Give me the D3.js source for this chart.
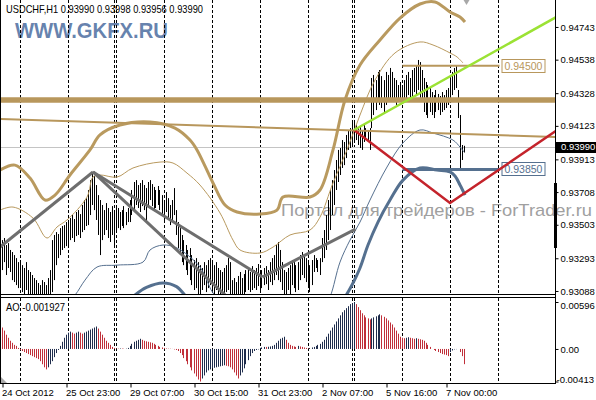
<!DOCTYPE html>
<html><head><meta charset="utf-8">
<script src="https://cdn.jsdelivr.net/npm/d3@7"></script>
<style>html,body{margin:0;padding:0;background:#fff;overflow:hidden}svg{display:block}</style>
</head><body><svg id="c" width="596" height="400"></svg>
<script>
// ---------- DATA ----------
const symbolTitle = "USDCHF,H1";
const lastOHLC = ["0.93990","0.93998","0.93956","0.93990"];
const aoTitle = "AO -0.001927";
const currentPrice = 0.93990;

const highs = [0.93407,0.9342,0.93376,0.93388,0.93345,0.93332,0.93313,0.93294,0.93269,0.93282,
0.9325,0.93232,0.93269,0.93219,0.93207,0.93188,0.93169,0.93156,0.93138,0.93125,
0.93156,0.93144,0.93125,0.93169,0.93219,0.93407,0.93439,0.93457,0.93445,0.93482,
0.93495,0.93501,0.9352,0.93533,0.93545,0.93564,0.93539,0.93583,0.93595,0.9357,
0.93627,0.93658,0.9367,0.93721,0.93783,0.93834,0.93809,0.93752,0.93689,0.93658,
0.93627,0.93595,0.93639,0.93608,0.93583,0.9362,0.93595,0.93627,0.93608,0.93583,
0.93595,0.9362,0.93583,0.93608,0.93658,0.93721,0.93771,0.93783,0.93752,0.93765,
0.93783,0.93752,0.93733,0.93771,0.93783,0.93758,0.9374,0.93721,0.93746,0.93721,
0.93689,0.93658,0.93708,0.9367,0.93627,0.93658,0.93733,0.93595,0.9352,0.93482,
0.93439,0.93407,0.93376,0.93345,0.93357,0.93313,0.93282,0.93294,0.93269,0.9325,
0.93232,0.93269,0.9325,0.93282,0.93294,0.93269,0.9325,0.93269,0.93232,0.93219,
0.93207,0.93232,0.9325,0.93294,0.93269,0.93156,0.93169,0.93144,0.93182,0.93207,
0.93169,0.93194,0.93219,0.93232,0.93207,0.93244,0.93219,0.93232,0.93257,0.93207,
0.93219,0.93232,0.93244,0.93219,0.93269,0.93294,0.93313,0.93376,0.93395,0.93345,
0.93269,0.93219,0.93207,0.93232,0.9325,0.93282,0.93269,0.9325,0.93269,0.93313,
0.93332,0.93313,0.93294,0.93269,0.9325,0.93282,0.93313,0.93294,0.93282,0.93294,
0.9342,0.9347,0.93564,0.93658,0.93721,0.93783,0.93846,0.93909,0.93972,0.93984,
0.94034,0.94022,0.94066,0.94097,0.94109,0.94147,0.9416,0.94128,0.94109,0.94122,
0.94097,0.94128,0.94109,0.94097,0.94109,0.94423,0.94442,0.9441,0.94461,0.94473,
0.94435,0.9441,0.94461,0.94442,0.94486,0.94461,0.94423,0.9441,0.94379,0.94398,
0.94379,0.9441,0.94442,0.94461,0.94423,0.94473,0.94486,0.94504,0.94536,0.94523,
0.94473,0.94423,0.94398,0.94379,0.9436,0.94335,0.94316,0.94348,0.94323,0.9431,
0.94335,0.94316,0.94348,0.9436,0.94442,0.94461,0.94486,0.94504,0.94348,0.94191,
0.94003,0.93998];

const lows = [0.93219,0.93269,0.93188,0.93232,0.93207,0.93156,0.93144,0.93125,0.93106,0.93119,
0.93081,0.93062,0.93094,0.93062,0.9304,0.9304,0.9304,0.9304,0.9304,0.9304,
0.9304,0.9304,0.9304,0.9304,0.9304,0.93081,0.93156,0.9325,0.93294,0.93313,
0.93345,0.93357,0.93369,0.93376,0.93407,0.9342,0.93395,0.93432,0.93439,0.9342,
0.93457,0.9347,0.93495,0.93501,0.93564,0.93627,0.93595,0.93533,0.93439,0.93313,
0.93407,0.93439,0.9347,0.9342,0.93395,0.93439,0.93376,0.93457,0.93482,0.9347,
0.93495,0.93482,0.93501,0.9352,0.9352,0.93564,0.93595,0.93627,0.93608,0.93583,
0.9362,0.93595,0.9352,0.93627,0.93658,0.9362,0.93595,0.93608,0.93627,0.93595,
0.93564,0.93533,0.93583,0.93545,0.93501,0.93533,0.93564,0.93439,0.93357,0.93332,
0.93269,0.9325,0.93219,0.93188,0.93156,0.93125,0.93094,0.93106,0.93062,0.9304,
0.93094,0.93125,0.93081,0.93106,0.93125,0.93094,0.93062,0.93094,0.9304,0.9304,
0.9304,0.9304,0.93081,0.93094,0.9304,0.9304,0.9304,0.9304,0.9304,0.93062,
0.9304,0.93062,0.93081,0.93094,0.93081,0.93094,0.93106,0.93094,0.93119,0.93094,
0.93106,0.93125,0.93131,0.93094,0.93144,0.93125,0.93156,0.93188,0.93156,0.93144,
0.93094,0.9304,0.9304,0.93094,0.9304,0.93125,0.93106,0.93081,0.93094,0.93156,
0.93188,0.93169,0.93144,0.93106,0.93081,0.93125,0.93207,0.93232,0.93207,0.93188,
0.93269,0.93294,0.93345,0.93407,0.9347,0.93564,0.93627,0.93721,0.93771,0.93815,
0.93859,0.93877,0.93921,0.93972,0.93984,0.94003,0.94034,0.94034,0.94003,0.93984,
0.93972,0.94022,0.94047,0.94022,0.93972,0.94109,0.94191,0.94222,0.94285,0.94254,
0.94235,0.9421,0.94254,0.94285,0.94298,0.94273,0.94285,0.94254,0.94298,0.94285,
0.94273,0.94298,0.94285,0.94316,0.94285,0.94298,0.94335,0.94316,0.94348,0.94298,
0.94285,0.9421,0.94191,0.94172,0.9421,0.94191,0.94172,0.9421,0.94222,0.94191,
0.9421,0.94222,0.94235,0.94254,0.94285,0.94316,0.94348,0.9436,0.94172,0.93859,
0.93909,0.93956];

const aoValues = [0.00272,0.00233,0.00181,0.00142,0.00104,0.00078,0.00052,0.00039,0.00013,
-0.00013,-0.00026,-0.00039,-0.00052,-0.00065,-0.00078,-0.00091,-0.00104,-0.00116,-0.00129,-0.00155,-0.00194,-0.00233,-0.00259,
-0.00233,-0.00194,-0.00155,-0.00104,-0.00052,-0.00013,
0.00039,0.00091,0.00142,0.00181,0.00207,0.0022,0.00207,0.00194,0.00207,0.0022,0.00207,0.00194,0.00207,0.0022,0.00233,0.00246,0.00259,0.00272,0.00285,
0.00259,0.0022,0.00181,0.00142,0.00104,0.00078,0.00052,0.00026,0.00013,
0.00006,0.00004,0.00006,0.00005,0.00003,0.00004,
0.00013,0.00039,0.00065,0.00091,0.00104,0.00116,0.00129,0.00116,0.00104,0.00097,0.00091,0.00084,0.00078,0.00065,0.00052,0.00039,0.00026,0.00019,0.00013,0.00006,0.00004,0.00003,0.00001,
-0.00006,-0.00013,-0.00026,-0.00052,-0.00078,-0.00116,-0.00155,-0.00194,-0.00233,-0.00272,-0.00311,-0.00349,-0.00388,-0.00413,
-0.00375,-0.00336,-0.00298,-0.00272,-0.00259,-0.00246,-0.00239,-0.00233,-0.00226,-0.0022,-0.00214,-0.00207,-0.00214,-0.0022,-0.00233,-0.00259,-0.00298,-0.00336,-0.00375,
-0.00336,-0.00298,-0.00246,-0.00194,-0.00142,-0.00091,-0.00052,-0.00026,-0.00013,-0.00006,
0.00013,0.00019,0.00026,0.00026,0.00028,0.00032,0.00039,0.00052,0.00078,0.00104,0.00129,0.00142,0.00155,0.00116,0.00078,0.00052,0.00039,0.00032,0.00026,0.00039,0.00032,0.00026,0.00019,0.00013,0.00006,
0.00013,0.00019,0.00026,0.00039,0.00052,0.00065,0.00091,0.00116,0.00155,0.00194,0.00233,0.00272,0.00311,0.00349,0.00388,0.00427,0.00466,0.00492,0.00518,0.00543,0.00569,0.00582,0.00596,
0.00569,0.00531,0.00492,0.00453,0.00427,0.00401,0.00388,0.00375,0.00388,0.00401,0.00414,0.00427,0.0044,0.00427,0.00408,0.00388,0.00362,0.00336,0.00311,0.00272,0.00233,0.00194,0.00155,
0.00142,0.00136,0.00142,0.00149,0.00142,0.00136,0.00129,0.00136,0.00129,0.00123,0.00116,0.00104,0.00078,0.00052,0.00026,0,-0.00013,-0.00026,-0.00039,-0.00052,-0.00065,-0.00071,-0.00078,-0.00091,
-0.00039,-0.00019,-0.00006,-0.00003,0,-0.00039,-0.00091,-0.00193];

const priceTicks = ["0.94743","0.94538","0.94328","0.94123","0.93913","0.93708","0.93503","0.93293","0.93088"];
const aoTicks = [0.00596, 0, -0.00413];
const aoTickLabels = ["0.00596","0.00","-0.00413"];
const dateLabels = ["24 Oct 2012","25 Oct 23:00","29 Oct 07:00","30 Oct 15:00","31 Oct 23:00","2 Nov 07:00","5 Nov 16:00","7 Nov 00:00"];
const dateLabelBars = [0,32,64,96,128,160,192,222];
const separatorBars = [9,33,56,57,81,105,129,153,175,176,200,224,248];

// indicator envelopes: [bar index, price]
const bandUpperOuter = [[-1.25,0.93846],[6.25,0.93877],[13.75,0.93796],[21.25,0.93658],[26.25,0.93689],[33.75,0.93815],[43.75,0.93972],[48.75,0.94066],[58.75,0.94128],[73.75,0.94147],[86.25,0.94109],[93.75,0.94034],[97.25,0.93972],[105.25,0.93765],[111.25,0.93627],[117.25,0.93583],[128.75,0.9357],[137.25,0.93595],[140.25,0.93677],[153.75,0.93677],[158.75,0.93721],[165.25,0.93972],[171.25,0.94285],[178.75,0.94504],[188.75,0.94661],[198.75,0.94799],[208.75,0.94887],[216.25,0.949],[223.75,0.94837],[228.75,0.94805],[231.25,0.94774]];
const bandUpperInner = [[-1.25,0.93595],[5.25,0.93614],[15.25,0.93545],[22.25,0.9342],[27.25,0.93489],[32.25,0.93533],[42.25,0.93677],[45.25,0.93802],[48.75,0.93815],[57.25,0.93802],[65.25,0.93859],[78.75,0.93896],[85.25,0.9389],[92.25,0.93827],[98.75,0.93752],[108.75,0.93577],[115.25,0.93407],[118.75,0.93345],[128.75,0.93326],[135.25,0.93363],[143.75,0.93439],[153.75,0.9347],[158.75,0.93551],[165.25,0.93765],[172.25,0.93972],[178.75,0.94191],[186.25,0.9441],[196.25,0.9458],[208.75,0.94649],[215.25,0.9463],[223.75,0.9458],[227.25,0.94555],[230.25,0.94517]];
const bandLowerInner = [[28.75,0.92968],[36.25,0.93062],[41.25,0.93156],[47.25,0.93238],[57.25,0.9325],[70.25,0.93269],[73.75,0.93345],[80.25,0.93376],[87.25,0.93357],[98.75,0.93238],[106.25,0.93056],[118.75,0.92937],[143.75,0.92874],[158.75,0.92937],[163.75,0.9305],[168.75,0.93269],[173.75,0.93407],[178.75,0.9352],[183.75,0.93658],[192.25,0.93865],[200.25,0.94016],[208.75,0.94097],[215.25,0.94078],[225.25,0.94034],[228.75,0.9399],[230.75,0.93959]];
const bandLowerOuter = [[52,0.9290],[60,0.92985],[66,0.93060],[72,0.93110],[80.25,0.93138],[87,0.93115],[92,0.93050],[99,0.92960],[118.75,0.92843],[148.75,0.92843],[166.25,0.92968],[170.25,0.93031],[174.75,0.93125],[178.75,0.93232],[182.75,0.93376],[187.75,0.93520],[193.75,0.93658],[200.25,0.93783],[208.75,0.93859],[217.25,0.93846],[223.75,0.93834],[226.25,0.93809],[228.75,0.93752],[231.25,0.93689]];

// drawn objects
const levelThick = 0.94285;
const slopedLevel = [[-1.25,0.94166],[276.5,0.94053]];
const resistance = {price:0.94500, from:200, to:248.5, label:"0.94500"};
const support = {price:0.93850, from:200, to:248.5, label:"0.93850"};
const greenLine = [[175.75,0.94097],[278.75,0.94818]];
const redLine = [[175.75,0.94097],[223.75,0.93639],[278.75,0.94109]];
const grayLines = [
  [[-1.25,0.93363],[45.25,0.93834]],
  [[45.25,0.93834],[130,0.93175]],
  [[45.25,0.93834],[118.75,0.92976]],
  [[130,0.93175],[176.5,0.93476]]
];

// ---------- DRAW ----------
const FONT = "'Liberation Sans', Arial, sans-serif";
const svg = d3.select("#c");
const x = d3.scaleLinear().domain([0, 276.5]).range([2.5, 555.5]);
const y = d3.scaleLinear().domain([0.93069, 0.94912]).range([294, 0]);
const yAO = d3.scaleLinear().domain([-0.00413, 0.00596]).range([381.5, 302]);

const defs = svg.append("defs");
defs.append("clipPath").attr("id","cm").append("rect").attr("x",1).attr("y",0).attr("width",554).attr("height",294);
defs.append("clipPath").attr("id","ca").append("rect").attr("x",1).attr("y",298).attr("width",554).attr("height",85);

svg.append("rect").attr("width",596).attr("height",400).attr("fill","#fff");

// watermarks
svg.append("text").attr("x",15).attr("y",38).attr("font-family",FONT).attr("font-weight","bold")
  .attr("font-size",22).attr("fill","#5272a3").attr("fill-opacity",0.88)
  .attr("textLength",153).attr("lengthAdjust","spacingAndGlyphs").text("WWW.GKFX.RU");
svg.append("text").attr("x",281).attr("y",216).attr("font-family",FONT)
  .attr("font-size",17).attr("fill","#a0a0a0")
  .attr("textLength",311).attr("lengthAdjust","spacingAndGlyphs").text("Портал для трейдеров - ForTrader.ru");

const main = svg.append("g").attr("clip-path","url(#cm)");
const ao = svg.append("g").attr("clip-path","url(#ca)");

// separators
separatorBars.forEach(b=>{
  [main, ao].forEach((g,k)=>{
    g.append("line").attr("x1",Math.round(x(b))-0.5).attr("x2",Math.round(x(b))-0.5)
     .attr("y1",k?298:0).attr("y2",k?383:294)
     .attr("stroke","#000").attr("stroke-dasharray","3,2").attr("stroke-width",1);
  });
});

// current price line
main.append("line").attr("x1",1).attr("x2",555).attr("y1",Math.round(y(currentPrice))+0.5).attr("y2",Math.round(y(currentPrice))+0.5)
  .attr("stroke","#c4c4c4").attr("stroke-width",1);

// bars
main.selectAll("line.bar").data(highs.map((h,i)=>({i,h,l:lows[i]}))).enter().append("line")
  .attr("class","bar")
  .attr("x1",d=>Math.round(x(d.i))-0.5).attr("x2",d=>Math.round(x(d.i))-0.5)
  .attr("y1",d=>y(d.h)).attr("y2",d=>y(d.l))
  .attr("stroke","#000").attr("stroke-width",1);

// bands
const curve = d3.line().x(d=>x(d[0])).y(d=>y(d[1])).curve(d3.curveCatmullRom.alpha(0.5));
const straight = d3.line().x(d=>x(d[0])).y(d=>y(d[1]));
main.append("path").attr("d",curve(bandLowerInner)).attr("fill","none").attr("stroke","#56708f").attr("stroke-width",1);
main.append("path").attr("d",curve(bandLowerOuter)).attr("fill","none").attr("stroke","#55708f").attr("stroke-width",3);
main.append("path").attr("d",curve(bandUpperInner)).attr("fill","none").attr("stroke","#b99a5f").attr("stroke-width",1);
main.append("path").attr("d",curve(bandUpperOuter)).attr("fill","none").attr("stroke","#b99a5f").attr("stroke-width",3);

// horizontal/sloped objects
main.append("line").attr("x1",1).attr("x2",555).attr("y1",y(levelThick)).attr("y2",y(levelThick))
  .attr("stroke","#b8975c").attr("stroke-width",5.5);
main.append("path").attr("d",straight(slopedLevel)).attr("stroke","#b8975c").attr("stroke-width",2).attr("fill","none");

[[resistance,"#b8975c",2],[support,"#55708f",3]].forEach(([o,c,w])=>{
  main.append("line").attr("x1",x(o.from)).attr("x2",x(o.to)).attr("y1",y(o.price)).attr("y2",y(o.price))
    .attr("stroke",c).attr("stroke-width",w);
  const bx = x(o.to)+2.5, by = Math.round(y(o.price))-6.5;
  main.append("rect").attr("x",bx).attr("y",by).attr("width",43).attr("height",13)
    .attr("fill","#fff").attr("stroke",c).attr("stroke-width",1);
  main.append("text").attr("x",bx+2.5).attr("y",by+10.5).attr("font-family",FONT).attr("font-size",10.5)
    .attr("fill",c).text(o.label);
});

grayLines.forEach(l=>{
  main.append("path").attr("d",straight(l)).attr("stroke","#6e6e6e").attr("stroke-width",3).attr("fill","none");
});
main.append("path").attr("d",straight(redLine)).attr("stroke","#c4232b").attr("stroke-width",2.5).attr("fill","none");
main.append("path").attr("d",straight(greenLine)).attr("stroke","#9be234").attr("stroke-width",2.5).attr("fill","none");

// chart-shift marker
svg.append("path").attr("d",d3.line()([[x(230.5),0],[x(233.5),0],[x(232),5]])).attr("fill","#a8a8a8");

// AO histogram
ao.selectAll("line.ao").data(aoValues.map((v,i)=>({i,v,up: i>0 && v>aoValues[i-1]}))).enter().append("line")
  .attr("x1",d=>Math.round(x(d.i))-0.5).attr("x2",d=>Math.round(x(d.i))-0.5)
  .attr("y1",yAO(0)).attr("y2",d=>yAO(d.v))
  .attr("stroke",d=>d.up?"#1e2c4c":"#c0303a").attr("stroke-width",1);
svg.append("path").attr("d",d3.line()([[1,377],[1,383],[7,383]])).attr("fill","#a9a9a9");

// frames
const fr = svg.append("g").attr("stroke","#000").attr("stroke-width",1).attr("shape-rendering","crispEdges");
fr.append("line").attr("x1",0.5).attr("x2",0.5).attr("y1",0).attr("y2",384);
fr.append("line").attr("x1",555.5).attr("x2",555.5).attr("y1",0).attr("y2",384);
fr.append("line").attr("x1",0).attr("x2",556).attr("y1",294.5).attr("y2",294.5);
fr.append("line").attr("x1",0).attr("x2",556).attr("y1",297.5).attr("y2",297.5);
fr.append("line").attr("x1",0).attr("x2",556).attr("y1",383.5).attr("y2",383.5);
svg.append("rect").attr("x",554).attr("y",183).attr("width",3).attr("height",65).attr("fill","#000");

// price axis
const pa = svg.append("g").attr("transform","translate(555.5,0)")
  .call(d3.axisRight(y).tickValues(priceTicks.map(Number)).tickFormat((d,i)=>priceTicks[i]).tickSize(3).tickPadding(2));
pa.select(".domain").remove();
pa.selectAll("text").attr("font-family",FONT).attr("font-size",9.5).attr("fill","#000");
pa.selectAll("line").attr("stroke","#000");

// current price marker
const cpY = y(currentPrice);
svg.append("rect").attr("x",556).attr("y",Math.round(cpY)-5).attr("width",40).attr("height",11).attr("fill","#000");
svg.append("text").attr("x",561).attr("y",cpY).attr("dy","0.35em").attr("font-family",FONT).attr("font-size",9.5)
  .attr("fill","#fff").text(d3.format(".5f")(currentPrice));

// AO axis
const aa = svg.append("g").attr("transform","translate(555.5,0)")
  .call(d3.axisRight(yAO).tickValues(aoTicks).tickFormat((d,i)=>aoTickLabels[i]).tickSize(3).tickPadding(2));
aa.select(".domain").remove();
aa.selectAll("text").attr("font-family",FONT).attr("font-size",9.5).attr("fill","#000")
  .attr("x",(d)=>d<0?1:5)
  .attr("y",(d)=>d>0?3:(d<0?-2.5:0));
aa.selectAll("line").attr("stroke","#000");

// date axis
const da = svg.append("g").attr("transform","translate(0,383.5)")
  .call(d3.axisBottom(x).tickValues(dateLabelBars).tickFormat((d,i)=>dateLabels[i]).tickSize(4).tickPadding(1));
da.select(".domain").remove();
da.selectAll("text").attr("font-family",FONT).attr("font-size",9.5).attr("fill","#000")
  .attr("text-anchor","start").attr("x",-1).attr("dy","0.75em");
da.selectAll("line").attr("stroke","#000");

// titles
svg.append("text").attr("x",6).attr("y",13).attr("font-family",FONT).attr("font-size",10.5).attr("fill","#000")
  .attr("textLength",197).attr("lengthAdjust","spacingAndGlyphs")
  .text(symbolTitle + " " + lastOHLC.join(" "));
svg.append("text").attr("x",6).attr("y",311).attr("font-family",FONT).attr("font-size",10).attr("fill","#000")
  .attr("textLength",59).attr("lengthAdjust","spacingAndGlyphs")
  .text(aoTitle);
</script></body></html>
